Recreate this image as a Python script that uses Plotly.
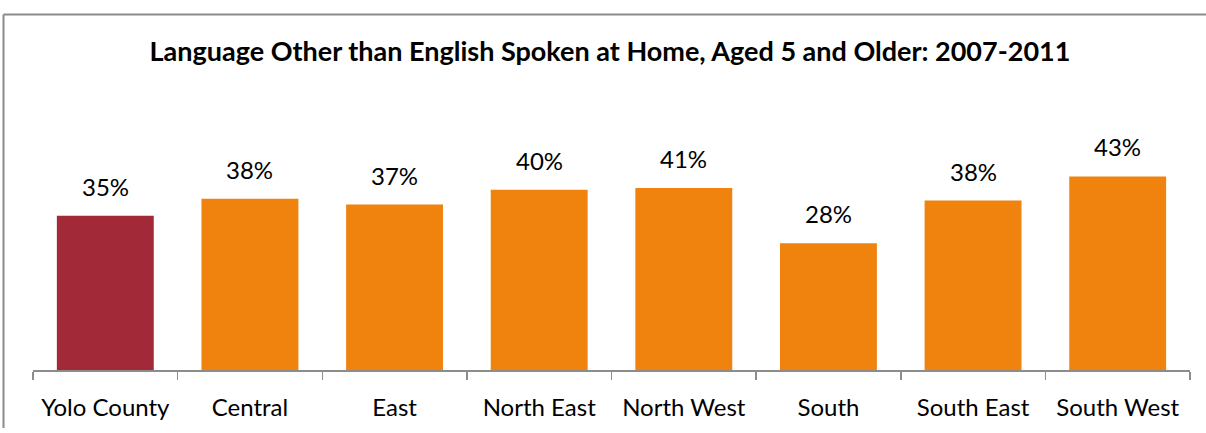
import plotly.graph_objects as go

categories = ["Yolo County", "Central", "East", "North East", "North West", "South", "South East", "South West"]
values = [34.6, 38.4, 37.1, 40.4, 40.8, 28.4, 38.0, 43.4]
colors = ["#A22A38"] + ["#F0820E"] * 7

W, H = 1206, 433
ml, mr, mt, mb = 33, 16, 147, 59
pw = W - ml - mr
ph = H - mt - mb

fig = go.Figure()
fig.add_trace(go.Bar(
    x=categories, y=values, marker=dict(color=colors, line=dict(width=0)),
    hoverinfo="skip",
))
for c, v in zip(categories, values):
    fig.add_annotation(x=c, y=v, text=f"{v:.0f}%", showarrow=False,
                       yanchor="bottom", yshift=13,
                       font=dict(family="Lato", size=24, color="#000000"))

bx0 = (3.5 - ml) / pw
bx1 = (W - ml) / pw
by0 = -(mb) / ph
by1 = (H - mb - 12) / ph
border = dict(color="#8A8A8A", width=2)

fig.update_layout(
    width=W, height=H,
    margin=dict(l=ml, r=mr, t=mt, b=mb),
    paper_bgcolor="white", plot_bgcolor="white",
    bargap=0.33,
    showlegend=False,
    title=dict(text="<b>Language Other than English Spoken at Home, Aged 5 and Older: 2007-2011</b>",
               x=610 / W, xanchor="center", y=1 - 52 / H, yanchor="middle",
               xref="container", yref="container",
               font=dict(family="Lato", size=27, color="#000000")),
    xaxis=dict(showline=True, linecolor="#8C8C8C", linewidth=1.5,
               ticks="outside", tickson="boundaries", ticklen=8, tickcolor="#8C8C8C", tickwidth=1.5,
               ticklabelstandoff=16,
               tickfont=dict(family="Lato", size=24, color="#000000"),
               showgrid=False, zeroline=False),
    yaxis=dict(range=[0, 50], visible=False, showgrid=False, zeroline=False),
    shapes=[
        dict(type="line", xref="paper", yref="paper", x0=bx0, x1=bx1, y0=by1, y1=by1, line=border, layer="below"),
        dict(type="line", xref="paper", yref="paper", x0=bx0, x1=bx0, y0=by0, y1=by1, line=border, layer="below"),
    ],
)

fig.write_html(
    "out.html", config={"displayModeBar": False, "staticPlot": True},
    post_script=("document.documentElement.style.overflow='hidden';"
                 "document.body.style.margin='0';document.body.style.overflow='hidden';"),
)
